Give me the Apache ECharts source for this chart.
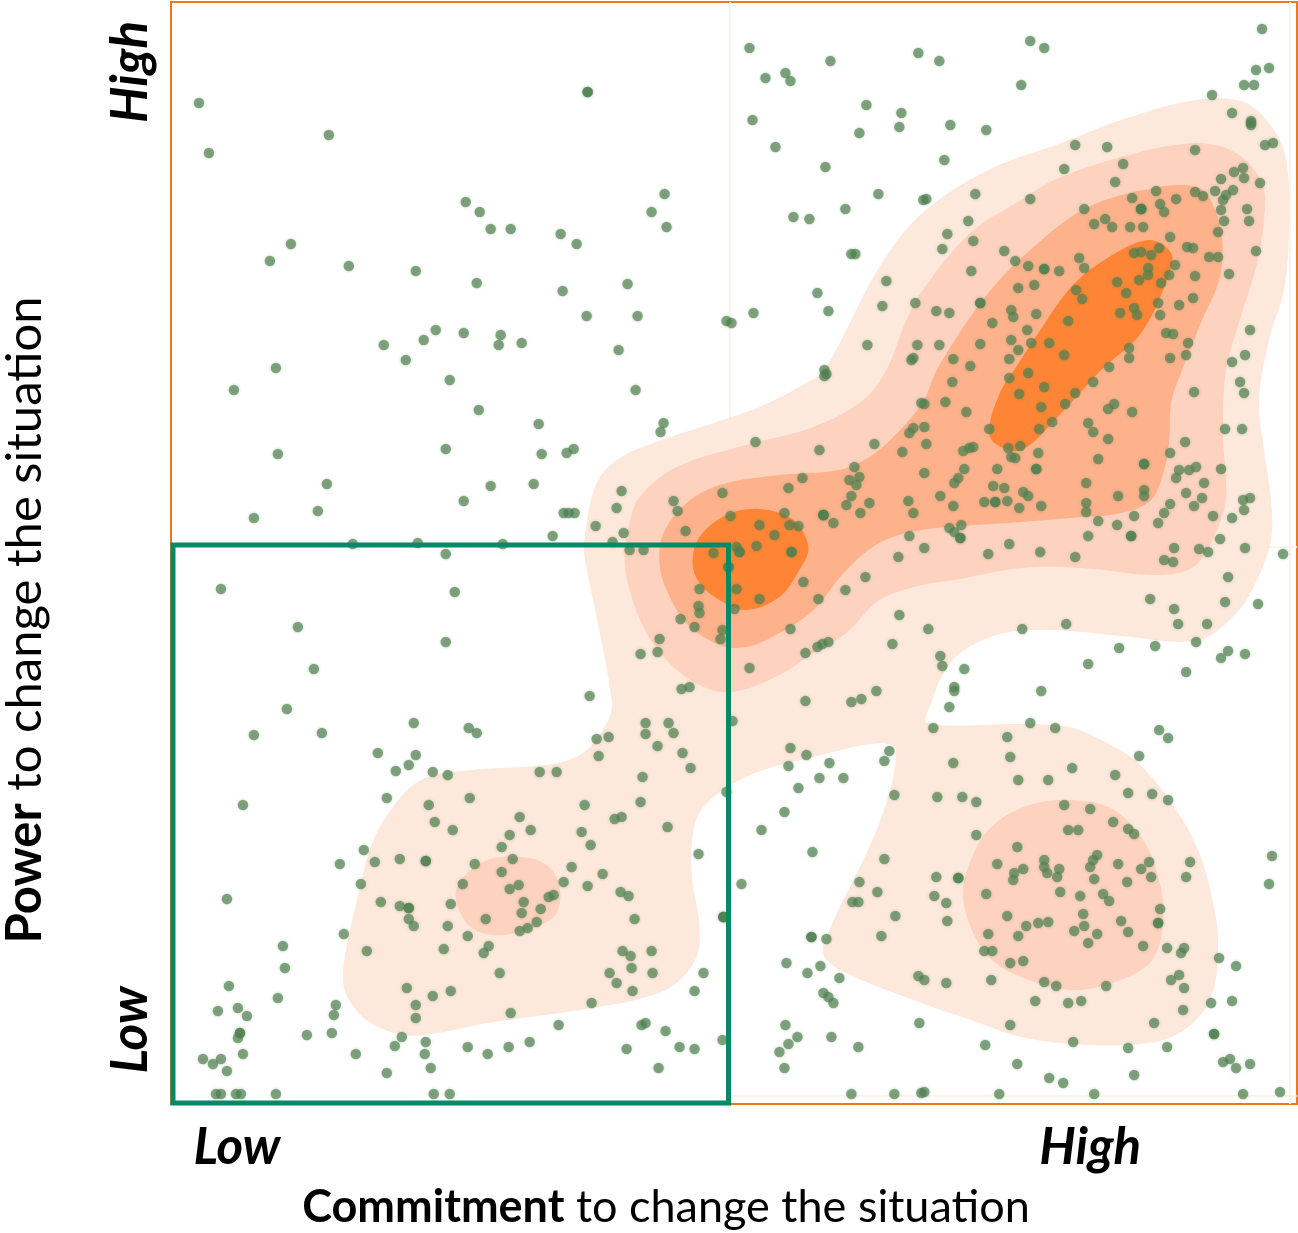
<!DOCTYPE html>
<html>
<head>
<meta charset="utf-8">
<style>html,body{margin:0;padding:0;background:#fff}#c{width:1298px;height:1233px}</style>
<script src="https://cdn.jsdelivr.net/npm/echarts@6/dist/echarts.min.js"></script>
</head>
<body>
<div id="c"></div>
<script>
const xTitleBold = 'Commitment';
const yTitleBold = 'Power';
const titleRest = ' to change the situation';
const xTickValues = [66, 920];
const yTickValues = [74, 1032];
const tickNames = ['Low', 'High'];

const dotsA = [[28,1001],[38,951],[158,969],[295,902],[309,892],[320,875],[340,875],[120,860],[99,843],[178,838],[245,833],[306,821],[265,774],[293,771],[330,769],[328,759],[351,761],[253,764],[213,759],[235,744],[105,736]];
const dotsB = [[579,1056],[660,1043],[748,1051],[595,1026],[615,1031],[620,1023],[417,1012],[417,1012],[696,999],[731,991],[729,977],[582,984],[689,971],[605,957],[655,937],[708,910],[753,904],[494,910],[481,892],[496,877],[623,887],[639,885],[675,895],[390,870],[406,860],[681,850],[685,850],[716,823],[457,820],[392,813],[647,811],[658,793],[712,798],[745,801],[416,788],[467,788],[583,791],[556,783],[561,781],[697,759],[448,754],[747,759],[741,744],[743,746],[654,734]];
const dotsC = [[1092,1075],[860,1063],[874,1056],[769,1043],[1086,1034],[1099,1036],[851,1019],[1074,1019],[1084,1019],[1042,1009],[1062,991],[1081,981],[1081,983],[1081,979],[780,979],[816,974],[905,959],[937,957],[1095,959],[1103,961],[1025,954],[774,944],[953,940],[894,935],[945,922],[1064,932],[1073,936],[1074,926],[1051,925],[1090,921],[756,905],[805,910],[860,905],[986,913],[962,906],[1006,905],[1025,912],[1033,908],[1045,913],[1063,914],[1056,909],[1053,904],[914,895],[971,895],[971,895],[971,895],[990,900],[994,892],[1051,894],[1077,895],[1079,883],[1054,883],[798,883],[924,880],[935,885],[942,877],[960,877],[973,877],[777,870],[1048,872],[1000,867],[803,863],[772,855],[834,853],[1017,857],[1023,856],[1086,853],[964,851],[971,852],[981,849],[989,856],[1048,847],[1039,847],[909,846],[845,843],[858,838],[874,835],[874,835],[889,833],[914,836],[801,833],[1005,839],[978,836],[1059,830],[1025,828],[999,829],[969,824],[978,829],[947,822],[991,821],[864,819],[848,816],[906,814],[956,811],[1023,806],[912,805],[1009,799],[988,801],[810,801],[810,801],[766,793],[779,791],[841,794],[843,787],[866,790],[964,796],[967,789],[950,791],[990,789],[822,781],[898,783],[1080,774],[857,774],[996,771],[1003,770],[841,764],[861,761],[879,761],[810,760],[769,759],[1018,761],[848,754],[959,756],[894,749],[959,746],[1000,746],[1016,749],[1075,749],[1062,742],[783,745],[839,745],[800,738],[939,737]];
const dotsD = [[63,714],[279,724],[308,694],[368,680],[107,650],[275,655],[371,650],[156,620],[320,618],[363,620],[293,603],[147,593],[83,586],[182,560],[247,561],[332,560],[275,550],[50,515],[284,512],[127,477],[275,462],[143,435],[116,395],[243,381],[298,376],[306,371],[151,371],[83,369]];
const dotsE = [[654,728],[656,730],[465,714],[493,681],[490,672],[403,655],[396,651],[585,662],[649,654],[704,660],[732,652],[743,676],[739,671],[751,701],[684,637],[689,627],[679,624],[632,626],[618,616],[552,611],[451,613],[686,619],[681,608],[676,599],[699,601],[690,591],[738,603],[743,591],[503,603],[507,593],[446,596],[393,591],[398,591],[404,591],[614,591],[653,589],[653,589],[653,589],[663,581],[560,588],[425,578],[619,579],[628,578],[589,579],[604,569],[515,573],[453,571],[382,568],[739,568],[442,562],[459,554],[473,554],[586,558],[566,557],[569,552],[569,552],[543,551],[621,552],[621,552],[728,547],[558,537],[558,537],[695,527],[633,522],[675,514],[529,515],[566,515],[589,505],[648,505],[528,498],[529,491],[564,495],[510,485],[729,489],[524,477],[620,475],[552,474],[489,465],[550,465],[487,452],[470,450],[635,451],[647,457],[652,460],[658,462],[722,460],[579,436],[511,415],[519,417],[419,408],[635,403],[681,402],[691,405],[706,413],[475,381],[475,370],[498,381],[503,371],[438,367],[426,365],[562,383]];
const dotsF = [[858,731],[1070,722],[1074,711],[782,722],[839,726],[923,722],[1024,712],[874,717],[849,710],[905,711],[775,702],[754,700],[871,697],[895,700],[944,700],[938,695],[962,692],[796,692],[882,682],[918,681],[923,672],[1055,675],[1072,675],[869,675],[819,675],[754,677],[938,665],[1015,662],[756,660],[799,656],[793,653],[803,657],[838,656],[850,658],[868,651],[1000,651],[841,647],[928,645],[845,646],[974,640],[974,640],[827,635],[866,635],[866,635],[794,635],[1051,635],[1009,634],[1019,634],[1026,637],[754,631],[1006,626],[788,626],[784,621],[916,621],[1034,621],[823,618],[834,616],[974,614],[853,612],[858,608],[1016,611],[948,608],[974,608],[770,608],[1080,606],[1073,604],[1032,606],[814,602],[825,602],[825,602],[837,603],[916,601],[1000,600],[1024,598],[783,598],[849,596],[871,598],[916,592],[1074,594],[994,591],[964,588],[1043,588],[1062,586],[928,583],[988,581],[791,579],[947,579],[779,576],[784,572],[790,566],[790,566],[961,568],[961,568],[918,568],[1050,565],[839,560],[754,556],[1004,556],[1075,556],[1029,555],[1038,552],[1113,550],[818,550],[870,552],[905,547],[994,544],[1003,542],[1058,527],[980,505],[1055,502],[1088,500],[1004,495],[1008,480],[1037,480],[896,480],[852,475],[758,475],[1026,462],[949,456],[985,458],[1058,453],[1051,446],[1075,450],[770,448],[772,438],[794,435],[918,440],[1016,432],[784,417],[784,413],[871,413],[779,397],[860,381],[885,376],[763,376],[989,374],[998,366],[837,367]];
const dotsG = [[207,351],[245,349],[238,339],[225,333],[262,332],[277,329],[369,332],[72,299],[216,306],[299,306],[258,299],[349,287],[264,282],[282,274],[360,274],[339,269],[331,257],[193,254],[342,245],[229,245],[255,243],[255,243],[204,242],[169,240],[304,240],[331,232],[292,220],[190,220],[348,219],[339,215],[56,205],[210,202],[229,198],[238,196],[238,196],[280,200],[353,202],[351,191],[370,195],[238,185],[243,178],[315,185],[277,178],[366,182],[357,176],[349,173],[173,170],[297,168],[112,158],[318,158],[196,153],[273,155],[313,151],[114,136],[329,131],[58,118],[236,116],[280,113],[262,108],[107,106],[245,99],[165,99],[67,96],[47,93],[76,88],[163,89],[245,86],[340,91],[69,71],[69,71],[67,66],[161,71],[136,69],[231,67],[224,58],[255,62],[359,62],[297,57],[338,57],[72,50],[185,50],[254,50],[317,50],[32,45],[42,40],[50,45],[56,33],[260,36],[216,31],[45,10],[50,10],[65,10],[70,10],[105,10],[263,10],[279,10]];
const dotsH = [[428,348],[487,358],[512,351],[520,336],[386,332],[472,327],[414,299],[470,302],[444,285],[451,287],[497,277],[411,272],[420,259],[528,250],[556,312],[401,237],[432,230],[393,222],[417,218],[383,209],[378,207],[450,212],[458,208],[464,185],[553,187],[553,187],[553,187],[452,153],[460,148],[481,153],[461,136],[482,131],[439,131],[446,121],[462,113],[533,131],[524,113],[421,101],[388,79],[471,79],[475,81],[495,73],[456,55],[509,57],[524,55],[552,64],[488,36],[620,356],[636,349],[618,338],[659,341],[719,353],[714,343],[649,326],[673,326],[628,316],[724,309],[614,292],[591,274],[642,252],[714,245],[689,222],[707,212],[682,202],[688,202],[571,220],[725,188],[641,167],[641,167],[656,165],[711,168],[616,141],[650,138],[637,131],[669,126],[748,128],[653,111],[658,107],[663,101],[749,81],[615,79],[661,67],[627,67],[618,60],[609,52],[688,57],[614,36],[681,10],[724,10],[751,11]];
const dotsI = [[840,347],[969,348],[783,341],[902,336],[945,329],[848,324],[878,324],[958,311],[982,310],[767,307],[792,307],[806,302],[998,304],[894,299],[920,295],[943,282],[898,274],[908,274],[958,275],[964,270],[806,269],[847,257],[1102,248],[1020,242],[927,249],[923,244],[920,237],[874,244],[874,237],[877,231],[827,240],[948,240],[979,242],[971,235],[853,235],[844,231],[843,224],[889,235],[887,227],[981,227],[1016,227],[924,225],[957,222],[766,227],[788,226],[788,226],[1099,220],[890,212],[816,210],[910,208],[933,210],[939,203],[764,208],[776,201],[990,195],[913,190],[837,188],[777,183],[878,182],[868,181],[856,178],[951,183],[988,181],[988,181],[914,178],[958,172],[904,173],[927,170],[848,168],[818,170],[918,161],[973,158],[997,156],[1014,156],[1011,151],[814,153],[822,153],[1049,146],[1066,138],[853,143],[840,141],[1009,129],[1001,124],[1014,116],[754,124],[776,121],[821,124],[874,122],[886,118],[936,118],[865,103],[898,101],[911,103],[1041,101],[1062,103],[1013,94],[984,81],[840,79],[1044,70],[1044,70],[903,62],[815,59],[958,56],[997,57],[1053,42],[1060,45],[1066,36],[1080,40],[847,40],[879,26],[893,21],[964,29],[754,12],[829,10],[924,10],[1073,10],[1110,12]];

const levelOuter = [[1026,1004],[1076,1001],[1106,971],[1117,939],[1119,874],[1114,814],[1099,764],[1089,704],[1094,654],[1101,604],[1101,564],[1087,524],[1069,494],[1029,464],[951,468],[884,474],[834,471],[794,454],[774,432],[761,401],[757,381],[851,380],[899,377],[931,364],[968,341],[1004,297],[1028,254],[1044,197],[1048,154],[1041,107],[1018,77],[984,62],[918,59],[851,67],[801,84],[751,101],[676,131],[653,149],[659,174],[709,281],[726,354],[709,361],[643,347],[593,334],[560,319],[533,297],[523,274],[521,231],[529,177],[526,147],[506,121],[476,107],[409,94],[317,81],[267,71],[233,69],[200,81],[180,101],[172,124],[177,164],[187,207],[200,257],[220,294],[250,324],[300,334],[376,339],[409,349],[429,369],[441,394],[439,417],[434,447],[423,501],[414,547],[414,567],[426,621],[449,646],[486,662],[543,681],[589,697],[636,721],[654,734],[709,837],[752,891],[818,934],[891,961],[951,984]];
const levelSecondMain = [[751,812],[800,871],[851,904],[884,924],[951,947],[1026,961],[1066,951],[1092,921],[1094,884],[1086,837],[1072,791],[1056,734],[1053,667],[1056,624],[1054,594],[1034,549],[1018,534],[984,529],[911,536],[851,536],[784,524],[752,519],[709,504],[676,471],[643,451],[609,429],[563,412],[533,417],[503,437],[476,471],[459,514],[454,547],[459,581],[469,607],[506,637],[576,659],[643,677],[693,704],[716,734],[734,779]];
const levelSecondLeft = [[285,207],[293,227],[317,244],[350,247],[376,239],[389,217],[383,187],[333,169],[300,177]];
const levelSecondRight = [[793,204],[798,237],[818,274],[851,296],[891,304],[938,297],[971,267],[989,224],[993,184],[984,147],[958,127],[908,114],[868,121],[831,137],[808,161]];
const levelThird = [[768,737],[818,811],[868,861],[918,897],[984,916],[1026,917],[1042,901],[1052,864],[1049,824],[1032,784],[1012,734],[1001,701],[999,661],[994,634],[981,604],[951,591],[901,586],[851,582],[751,574],[709,561],[676,534],[643,494],[609,471],[576,457],[549,459],[516,481],[496,514],[489,541],[493,571],[516,601],[549,619],[609,629],[669,634],[699,647],[723,667],[752,701]];
const levelCoreLow = [[522,541],[529,567],[556,589],[589,595],[623,584],[638,557],[629,534],[609,507],[576,494],[549,504],[529,521]];
const levelCoreHigh = [[844,734],[868,771],[901,817],[934,844],[978,864],[1001,851],[998,827],[971,771],[931,734],[891,691],[851,654],[824,661],[819,677],[831,714]];
const focusCorners = [[2,1],[558,1],[558,559],[2,559]];

const contourLayers = [
  {points: levelOuter, fill: '#FDE8DC'},
  {points: levelSecondMain, fill: '#FDD2BE'},
  {points: levelSecondLeft, fill: '#FDD2BE'},
  {points: levelSecondRight, fill: '#FDD2BE'},
  {points: levelThird, fill: '#FDB28C'},
  {points: levelCoreLow, fill: '#FE8535'},
  {points: levelCoreHigh, fill: '#FE8535'}
];
const dots = [].concat(dotsA, dotsB, dotsC, dotsD, dotsE, dotsF, dotsG, dotsH, dotsI);
const FONT = 'Lato';
const tickName = (v, list) => tickNames[list.indexOf(v)] || '';

const chart = echarts.init(document.getElementById('c'), null, {renderer: 'canvas'});
chart.setOption({
  animation: false,
  backgroundColor: '#fff',
  grid: {left: 171, top: 2, width: 1126, height: 1102, show: true, backgroundColor: '#fff', borderColor: '#E9781F', borderWidth: 2},
  xAxis: {
    type: 'value', min: 0, max: 1127, splitLine: {show: false}, axisLine: {show: false}, axisTick: {show: false},
    axisLabel: {show: true, customValues: xTickValues, formatter: v => tickName(v, xTickValues), margin: 18, fontFamily: FONT, fontSize: 51, fontWeight: 'bold', fontStyle: 'italic', color: '#000'}
  },
  yAxis: {
    type: 'value', min: 0, max: 1102, splitLine: {show: false}, axisLine: {show: false}, axisTick: {show: false},
    axisLabel: {show: true, customValues: yTickValues, formatter: v => tickName(v, yTickValues), margin: 15, rotate: 90, fontFamily: FONT, fontSize: 51, fontWeight: 'bold', fontStyle: 'italic', color: '#000'}
  },
  graphic: [
    {type: 'text', x: 666, y: 1207, z: 20, style: {text: '{b|' + xTitleBold + '}' + titleRest, rich: {b: {fontWeight: 'bold', fontFamily: FONT, fontSize: 45, fill: '#000'}}, fontFamily: FONT, fontSize: 45, fill: '#000', align: 'center', verticalAlign: 'middle'}},
    {type: 'text', x: 25, y: 620, rotation: Math.PI / 2, z: 20, style: {text: '{b|' + yTitleBold + '}' + titleRest, rich: {b: {fontWeight: 'bold', fontFamily: FONT, fontSize: 49, fill: '#000'}}, fontFamily: FONT, fontSize: 49, fill: '#000', align: 'center', verticalAlign: 'middle'}}
  ],
  series: [
    {
      type: 'line', z: 1, silent: true, data: [], showSymbol: false,
      markLine: {z: 1, silent: true, symbol: 'none', label: {show: false}, animation: false, lineStyle: {color: '#F9F5EE', width: 2, type: 'solid'},
        data: [
          [{coord: [559, 557]}, {coord: [559, 1102]}],
          [{coord: [559, 557]}, {coord: [1127, 557]}],
          [{coord: [559, 8]}, {coord: [1127, 8]}],
          [{coord: [1120, 0]}, {coord: [1120, 1102]}]
        ]}
    },
    {
      type: 'custom', coordinateSystem: 'cartesian2d', silent: true, z: 2, clip: true,
      data: contourLayers.map((_, i) => [i]),
      encode: {x: [], y: []},
      renderItem: (params, api) => {
        const layer = contourLayers[api.value(0)];
        return {type: 'polygon', shape: {points: layer.points.map(p => api.coord(p)), smooth: 0.35}, style: {fill: layer.fill, stroke: null}};
      }
    },
    {
      type: 'scatter', z: 4, silent: true, data: dots, symbolSize: 10.5,
      itemStyle: {color: '#4F7F4F', opacity: 0.66, shadowBlur: 3, shadowColor: 'rgba(79,127,79,0.45)'}
    },
    {
      type: 'custom', coordinateSystem: 'cartesian2d', silent: true, z: 6, clip: false,
      data: [[0]], encode: {x: [], y: []},
      renderItem: (params, api) => ({type: 'polygon', shape: {points: focusCorners.map(p => api.coord(p))}, style: {fill: 'none', stroke: '#058A68', lineWidth: 5}})
    }
  ]
});
</script>
</body>
</html>
